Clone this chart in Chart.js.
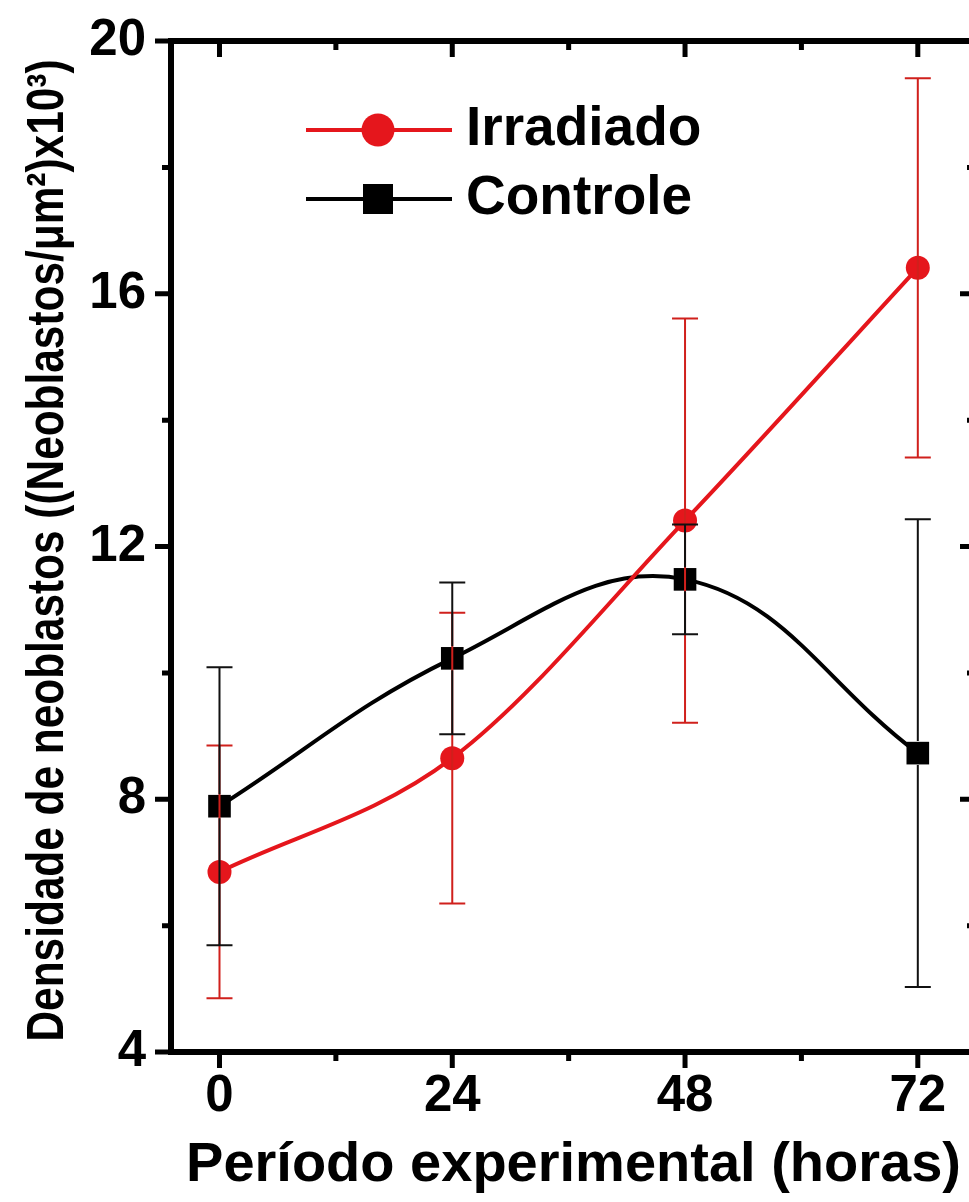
<!DOCTYPE html>
<html>
<head>
<meta charset="utf-8">
<script src="https://cdn.jsdelivr.net/npm/chart.js@4.4.1/dist/chart.umd.min.js"></script>
<style>
  html, body { margin: 0; padding: 0; background: #fff; overflow: hidden; }
  #wrap { width: 976px; height: 1202px; }
</style>
</head>
<body>
<div id="wrap"><canvas id="densChart" width="976" height="1202"></canvas></div>
<script>
// values (x = hours, y = density x10^3)
const hours = [0, 24, 48, 72];
const irradiado = [6.85, 8.65, 12.41, 16.41];
const irradiadoErr = [2.0, 2.3, 3.2, 3.0];
const controle = [7.89, 10.23, 11.48, 8.73];
const controleErr = [2.2, 1.2, 0.87, 3.7];

const xTicks = [0, 24, 48, 72];
const xMinorTicks = [12, 36, 60];
const yTicks = [4, 8, 12, 16, 20];
const yMinorTicks = [6, 10, 14, 18];

const yTitle = 'Densidade de neoblastos ((Neoblastos/μm²)x10³)';

const RED = '#e5161c';
const RED_BAR = '#d0201c';
const BLACK = '#000000';

const tickFont = { family: "'Liberation Sans', Arial, sans-serif", size: 51, weight: 'bold' };

function toPoints(xs, ys) {
    return xs.map((x, i) => ({ x: x, y: ys[i] }));
}

// error bars, drawn over the markers
const errorBars = {
    id: 'errorBars',
    afterDatasetsDraw(chart) {
        const ctx = chart.ctx;
        const xs = chart.scales.x, ys = chart.scales.y;
        // red first, black on top (as in the original)
        [0, 1].forEach(function (di) {
            const ds = chart.data.datasets[di];
            const gap = ds.skipGap;
            ctx.save();
            ctx.strokeStyle = ds.barColor;
            ctx.lineWidth = 2;
            ds.data.forEach(function (p, i) {
                const px = xs.getPixelForValue(p.x);
                const py = ys.getPixelForValue(p.y);
                const top = ys.getPixelForValue(p.y + ds.err[i]);
                const bot = ys.getPixelForValue(p.y - ds.err[i]);
                ctx.beginPath();
                ctx.moveTo(px, py - gap); ctx.lineTo(px, top);
                ctx.moveTo(px, py + gap); ctx.lineTo(px, bot);
                ctx.moveTo(px - 13, top); ctx.lineTo(px + 13, top);
                ctx.moveTo(px - 13, bot); ctx.lineTo(px + 13, bot);
                ctx.stroke();
            });
            ctx.restore();
        });
    }
};

// closed frame with Origin-style ticks (out on bottom/left, in on top/right)
const frame = {
    id: 'frame',
    afterDraw(chart) {
        const ctx = chart.ctx;
        const a = chart.chartArea;
        const xs = chart.scales.x, ys = chart.scales.y;
        ctx.save();
        ctx.strokeStyle = BLACK;
        ctx.lineWidth = 5;
        ctx.beginPath();
        function xt(list, len) {
            list.forEach(function (v) {
                const px = xs.getPixelForValue(v);
                ctx.moveTo(px, a.bottom); ctx.lineTo(px, a.bottom + len);
                ctx.moveTo(px, a.top); ctx.lineTo(px, a.top + len);
            });
        }
        function yt(list, len) {
            list.forEach(function (v) {
                const py = ys.getPixelForValue(v);
                ctx.moveTo(a.left, py); ctx.lineTo(a.left - len, py);
                ctx.moveTo(a.right, py); ctx.lineTo(a.right - len, py);
            });
        }
        xt(xTicks, 16); xt(xMinorTicks, 9);
        yt(yTicks, 16); yt(yMinorTicks, 9);
        ctx.stroke();
        ctx.lineWidth = 6;
        ctx.strokeRect(a.left, a.top, a.right - a.left, a.bottom - a.top);
        ctx.restore();
    }
};

// y title: the original uses a narrow bold face, so squeeze the text horizontally
const narrowYTitle = {
    id: 'narrowYTitle',
    afterDraw(chart) {
        const ctx = chart.ctx;
        const a = chart.chartArea;
        ctx.save();
        ctx.font = "bold 52px 'Liberation Sans', Arial, sans-serif";
        const w = ctx.measureText(yTitle).width;
        const squeeze = 982 / w;
        ctx.translate(49, (a.top + a.bottom) / 2 + 4);
        ctx.rotate(-Math.PI / 2);
        ctx.scale(squeeze, 1);
        ctx.fillStyle = BLACK;
        ctx.textAlign = 'center';
        ctx.textBaseline = 'middle';
        ctx.fillText(yTitle, 0, 0);
        ctx.restore();
    }
};

// legend inside the plot: line + marker + label
const insideLegend = {
    id: 'insideLegend',
    afterDraw(chart) {
        const ctx = chart.ctx;
        const rows = [130, 199];
        ctx.save();
        chart.data.datasets.forEach(function (ds, i) {
            const y = rows[i];
            ctx.strokeStyle = ds.borderColor;
            ctx.lineWidth = 4;
            ctx.beginPath();
            ctx.moveTo(306, y); ctx.lineTo(452, y);
            ctx.stroke();
            ctx.fillStyle = ds.pointBackgroundColor;
            if (ds.pointStyle === 'circle') {
                ctx.beginPath();
                ctx.arc(378, y, 16.5, 0, Math.PI * 2);
                ctx.fill();
            } else {
                ctx.fillRect(363, y - 15, 30, 30);
            }
            ctx.fillStyle = BLACK;
            ctx.font = "bold 55px 'Liberation Sans', Arial, sans-serif";
            ctx.textBaseline = 'middle';
            ctx.fillText(ds.label, 466, y);
        });
        ctx.restore();
    }
};

const ctx = document.getElementById('densChart').getContext('2d');
const densChart = new Chart(ctx, {
    type: 'line',
    data: {
        datasets: [{
            label: 'Irradiado',
            data: toPoints(hours, irradiado),
            err: irradiadoErr,
            barColor: RED_BAR,
            skipGap: 0,
            borderColor: RED,
            borderWidth: 4,
            cubicInterpolationMode: 'monotone',
            fill: false,
            pointStyle: 'circle',
            pointRadius: 12,
            pointBorderWidth: 0,
            pointBackgroundColor: RED
        }, {
            label: 'Controle',
            data: toPoints(hours, controle),
            err: controleErr,
            barColor: '#111111',
            skipGap: 12,
            borderColor: BLACK,
            borderWidth: 4,
            tension: 0.4,
            fill: false,
            pointStyle: 'rect',
            pointRadius: 16,
            pointBorderWidth: 0,
            pointBackgroundColor: BLACK
        }]
    },
    options: {
        responsive: false,
        animation: false,
        events: [],
        layout: { autoPadding: false, padding: { top: 41, right: 0, left: 0, bottom: 0 } },
        scales: {
            x: {
                type: 'linear',
                min: -5,
                max: 78,
                afterBuildTicks: function (s) { s.ticks = xTicks.map(v => ({ value: v })); },
                afterFit: function (s) {
                    s.height = 150;
                    s.paddingLeft = 0;
                    s.paddingRight = 0;
                },
                grid: { display: false, drawTicks: false },
                border: { display: false },
                ticks: {
                    color: BLACK,
                    font: tickFont,
                    padding: 14,
                    maxRotation: 0
                },
                title: {
                    display: true,
                    text: 'Período experimental (horas)',
                    color: BLACK,
                    font: { family: "'Liberation Sans', Arial, sans-serif", size: 56, weight: 'bold' },
                    padding: { top: 0, bottom: 3 }
                }
            },
            y: {
                min: 4,
                max: 20,
                afterBuildTicks: function (s) { s.ticks = yTicks.map(v => ({ value: v })); },
                afterFit: function (s) {
                    s.width = 171;
                    s.paddingTop = 0;
                    s.paddingBottom = 0;
                },
                grid: { display: false, drawTicks: false },
                border: { display: false },
                ticks: {
                    color: BLACK,
                    font: tickFont,
                    padding: 25
                },
                title: { display: false }
            }
        },
        plugins: {
            legend: { display: false },
            tooltip: { enabled: false }
        }
    },
    plugins: [errorBars, frame, narrowYTitle, insideLegend]
});
</script>
</body>
</html>
